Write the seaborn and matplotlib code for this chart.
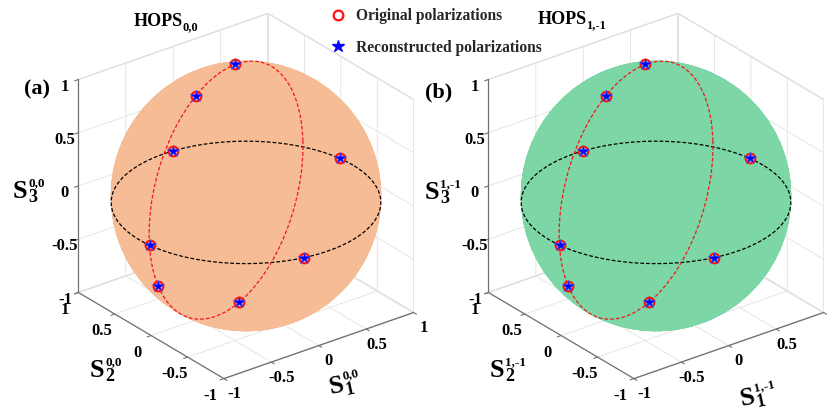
import numpy as np
import matplotlib
matplotlib.use("Agg")
import matplotlib.pyplot as plt
from matplotlib.lines import Line2D
import seaborn as sns

# ---------------- data ----------------
tick_values = [-1, -0.5, 0, 0.5, 1]
tick_labels = ["-1", "-0.5", "0", "0.5", "1"]

# original polarizations (S1, S2, S3) - same states in both panels
orig_s1 = [0.102, -0.441, 0.089, 1.116, -1.115, -0.235, -1.013, 0.085]
orig_s2 = [0.281, 0.113, 1.125, 0.167, -0.128, -1.103, -0.113, 0.204]
orig_s3 = [1.090, 1.034, -0.060, -0.060, -0.060, -0.060, -0.486, -1.107]

# reconstructed polarizations
recon_s1 = [0.102, -0.441, 0.089, 1.116, -1.115, -0.235, -1.013, 0.085]
recon_s2 = [0.281, 0.113, 1.125, 0.167, -0.128, -1.103, -0.113, 0.204]
recon_s3 = [1.090, 1.034, -0.060, -0.060, -0.060, -0.060, -0.486, -1.107]

panel_tags = ["(a)", "(b)"]
panel_orders = ["0,0", "1,-1"]
sphere_colors = ["#F6BC95", "#7DD6A5"]
legend_labels = ["Original polarizations", "Reconstructed polarizations"]

# guide geometry of the sphere and of the two dashed circles
sphere_radius = 1.13
equator_z = -0.06
equator_radius = 1.128
red_center = [-0.060, 0.196, -0.006]
red_axis_a = [0.955, 0.294, 0.0]
red_axis_b = [-0.0091, 0.0296, 0.999]
red_radius = 1.111

# ---------------- style ----------------
sns.set_theme(style="white")
plt.rcParams.update({
    "font.family": ["Liberation Serif", "DejaVu Serif"],
    "font.weight": "bold",
    "font.size": 12,
    "xtick.labelsize": 12,
    "ytick.labelsize": 12,
    "grid.color": "#e2e2e2",
    "grid.linewidth": 0.6,
    "axes.edgecolor": "#707070",
    "axes.linewidth": 0.9,
    "xtick.color": "#707070",
    "ytick.color": "#707070",
    "xtick.labelcolor": "black",
    "ytick.labelcolor": "black",
    "xtick.major.width": 0.8,
    "ytick.major.width": 0.8,
})

W, H = 828, 417
fig = plt.figure(figsize=(W / 100, H / 100), dpi=100)
fig.patch.set_facecolor("white")

side = 400
centers = [(246, 196), (656, 196)]
frac = 0.095 / 0.185

t = np.linspace(0, 2 * np.pi, 400)
uu = np.linspace(0, 2 * np.pi, 73)
vv = np.linspace(0, np.pi, 37)


def project(ax, x, y, z):
    M = ax.get_proj()
    vec = M @ np.array([x, y, z, 1.0])
    return vec[0] / vec[3], vec[1] / vec[3]


for i in range(2):
    cx, cy = centers[i]
    left = cx - frac * side
    bottom = (H - cy) - frac * side
    ax = fig.add_axes([left / W, bottom / H, side / W, side / H],
                      projection="3d", computed_zorder=False)
    ax.set_proj_type("ortho")
    ax.view_init(elev=27, azim=-127.5)
    ax.set_box_aspect((1, 1, 1), zoom=1.005)
    ax.set_xlim(-1, 1)
    ax.set_ylim(-1, 1)
    ax.set_zlim(-1, 1)
    ax.set_xticks(tick_values)
    ax.set_yticks(tick_values)
    ax.set_zticks(tick_values)
    ax.set_zticklabels(tick_labels)
    ax.xaxis.set_tick_params(labelbottom=False)
    ax.yaxis.set_tick_params(labelbottom=False)
    ax.grid(True)
    for axis in (ax.xaxis, ax.yaxis, ax.zaxis):
        axis.set_pane_color((1, 1, 1, 1))
        axis.pane.set_edgecolor("#dcdcdc")
        axis.line.set_color("#707070")
        axis._axinfo["tick"]["inward_factor"] = 0.25
        axis._axinfo["tick"]["outward_factor"] = 0.0
    ax.tick_params(axis="z", pad=-2)

    # sphere
    X = sphere_radius * np.outer(np.cos(uu), np.sin(vv))
    Y = sphere_radius * np.outer(np.sin(uu), np.sin(vv))
    Z = sphere_radius * np.outer(np.ones_like(uu), np.cos(vv))
    ax.plot_surface(X, Y, Z, color=sphere_colors[i], shade=False,
                    edgecolor=sphere_colors[i], linewidth=0.4,
                    antialiased=True, rstride=1, cstride=1)

    # dashed circles
    ax.plot(equator_radius * np.cos(t), equator_radius * np.sin(t),
            np.full_like(t, equator_z), color="black", lw=0.9, ls=(0, (3, 1.6)))
    a = np.array(red_axis_a)
    b = np.array(red_axis_b)
    c = np.array(red_center)
    pts = c[:, None] + red_radius * (np.outer(a, np.cos(t)) + np.outer(b, np.sin(t)))
    ax.plot(pts[0], pts[1], pts[2], color="#f01818", lw=0.9, ls=(0, (3, 1.6)))

    # markers
    ax.plot(orig_s1, orig_s2, orig_s3, ls="none", marker="o", mfc="none",
            mec="#ff1010", mew=1.5, ms=7)
    ax.plot(recon_s1, recon_s2, recon_s3, ls="none", marker="*", color="#0000ff",
            mec="#2a4cff", mew=0.4, ms=9)

    # S1 / S2 tick labels, placed MATLAB-style just outside the bottom edges
    for v, lab in zip(tick_values, tick_labels):
        for pos in ((v, -1.14, -1.07), (-1.14, v, -1.10)):
            px, py = project(ax, *pos)
            dx, _ = ax.transData.transform((px, py))
            if dx > W - 10:  # falls off the figure edge (as in the reference)
                continue
            ax.text2D(px, py, lab, transform=ax.transData, ha="center",
                      va="center_baseline", fontsize=12, fontweight="bold",
                      color="black")

# ---------------- composed text ----------------
renderer = fig.canvas.get_renderer()


def text_w(txt, size):
    tt = fig.text(0.5, 0.5, txt, fontsize=size, fontweight="bold")
    w = tt.get_window_extent(renderer).width
    tt.remove()
    return w


def put(txt, x, y, size, rot=0):
    fig.text(x / W, 1 - y / H, txt, fontsize=size, fontweight="bold",
             rotation=rot, rotation_mode="anchor", ha="left", va="baseline",
             color="black")


def stokes_label(x, y, sub, sup, rot=0, big=19, subsz=13, supsz=9.5, up=12, down=4):
    th = np.deg2rad(rot)
    put("S", x, y, big, rot)
    w = text_w("S", big) + 0.5

    def off(dx, dy_up):
        return (x + dx * np.cos(th) - dy_up * np.sin(th),
                y - (dx * np.sin(th) + dy_up * np.cos(th)))

    px, py = off(w, up)
    put(sup, px, py, supsz, rot)
    px, py = off(w, -down)
    put(sub, px, py, subsz, rot)


def title(x, y, order):
    put("HOPS", x, y, 13)
    w = text_w("HOPS", 13)
    put(order, x + w - 1.0, y + 4, 9)


# panel (a)
stokes_label(13, 198, "3", panel_orders[0])
stokes_label(90, 377, "2", panel_orders[0])
stokes_label(331, 394, "1", panel_orders[0], rot=12)
title(134, 26, panel_orders[0])
put(panel_tags[0], 24, 94, 16)
# panel (b)
stokes_label(425, 199, "3", panel_orders[1])
stokes_label(490, 377, "2", panel_orders[1])
stokes_label(742, 406, "1", panel_orders[1], rot=12)
title(538, 24, panel_orders[1])
put(panel_tags[1], 425, 97, 16)

handles = [Line2D([], [], ls="none", marker="o", mfc="none", mec="#ff1010", mew=1.6, ms=7),
           Line2D([], [], ls="none", marker="*", color="#0000ff", ms=9)]
fig.legend(handles, legend_labels, loc="upper left",
           bbox_to_anchor=(330 / W, 1 - 8 / H), frameon=False, borderpad=0,
           borderaxespad=0, handlelength=1.0, handletextpad=0.7,
           labelspacing=1.0, prop={"weight": "bold", "size": 11.2})

fig.savefig("out.png", dpi=100, facecolor="white")
